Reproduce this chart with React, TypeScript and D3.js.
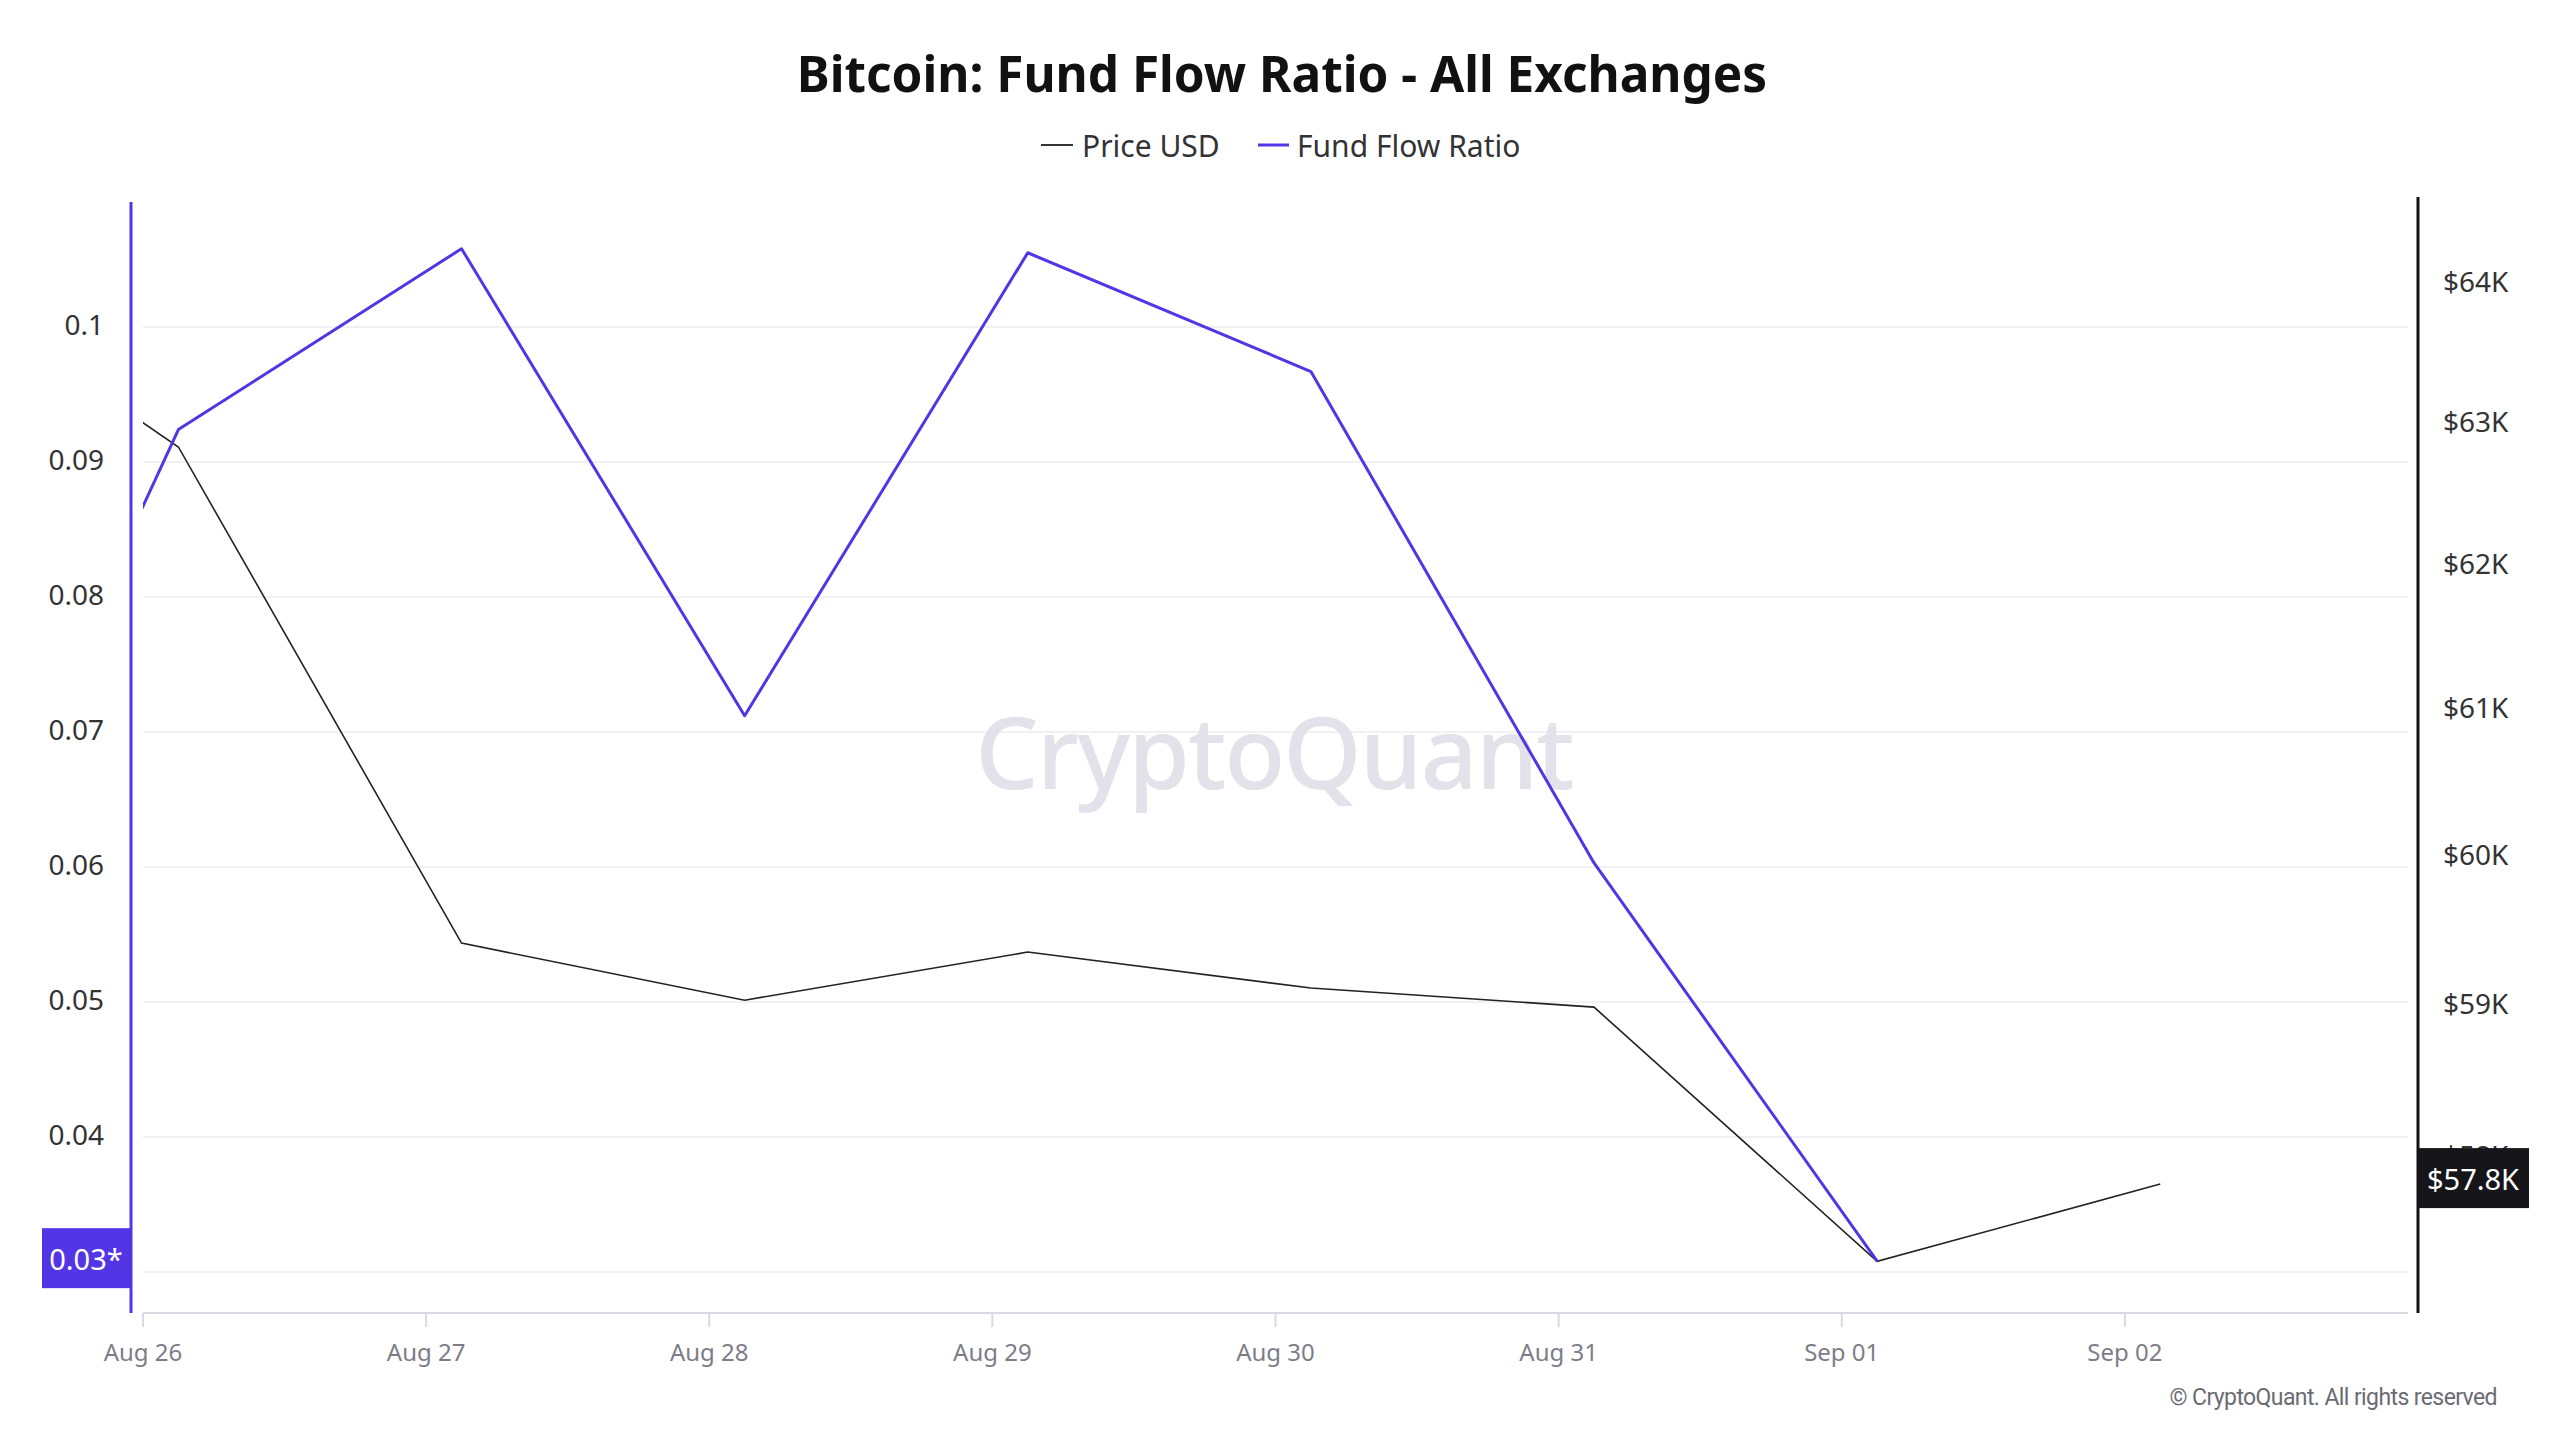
import * as d3 from 'd3'

// daily points (timestamps are ~03:00 UTC); Aug 25 sits off the left edge and gets clipped
const dates = [
  '2024-08-25', '2024-08-26', '2024-08-27', '2024-08-28', '2024-08-29',
  '2024-08-30', '2024-08-31', '2024-09-01', '2024-09-02',
]
const priceUsd = [64205, 62817, 59400, 59019, 59340, 59100, 58973, 57307, 57808]
const fundFlowRatio: (number | null)[] = [0.047, 0.0924, 0.1058, 0.0712, 0.1055, 0.0967, 0.0603, 0.0308, null]

const ratioTicks = [0.03, 0.04, 0.05, 0.06, 0.07, 0.08, 0.09, 0.1]
const priceTicks = [58000, 59000, 60000, 61000, 62000, 63000, 64000]
const dayTicks = [
  '2024-08-26', '2024-08-27', '2024-08-28', '2024-08-29',
  '2024-08-30', '2024-08-31', '2024-09-01', '2024-09-02',
]

const W = 2560
const H = 1440
const plot = { left: 143, right: 2408, top: 202, bottom: 1313 }

const PURPLE = '#5236e6'
const FONT = '"Noto Sans", "Open Sans", sans-serif'

const toTime = (d: string) => new Date(d + 'T03:00:00Z')

export default function App() {
  const x = d3
    .scaleUtc()
    .domain([new Date('2024-08-26T00:00:00Z'), new Date('2024-09-03T00:00:00Z')])
    .range([plot.left, plot.right])

  const yRatio = d3.scaleLinear().domain([0.02696, 0.10926]).range([plot.bottom, plot.top])
  const yPrice = d3.scaleLog().domain([56974, 64576]).range([plot.bottom, plot.top])

  const rows = dates.map((d, i) => ({ t: toTime(d), price: priceUsd[i], ratio: fundFlowRatio[i] }))

  const priceLine = d3
    .line<(typeof rows)[0]>()
    .x((d) => x(d.t))
    .y((d) => yPrice(d.price))

  const ratioLine = d3
    .line<(typeof rows)[0]>()
    .defined((d) => d.ratio != null)
    .x((d) => x(d.t))
    .y((d) => yRatio(d.ratio as number))

  const lastRatio = fundFlowRatio.filter((v) => v != null).slice(-1)[0] as number
  const lastPrice = priceUsd[priceUsd.length - 1]
  const fmtDay = d3.utcFormat('%b %d')

  return (
    <div style={{ position: 'absolute', left: 0, top: 0, background: '#fff' }}>
      <svg width={W} height={H} style={{ display: 'block', fontFamily: FONT }}>
        <defs>
          <clipPath id="plot-clip">
            <rect x={plot.left} y={plot.top} width={plot.right - plot.left} height={plot.bottom - plot.top} />
          </clipPath>
        </defs>
        <rect width={W} height={H} fill="#fff" />

        {/* title + legend */}
        <text x={1282} y={73} textAnchor="middle" dominantBaseline="central" fontSize={49.5} fontWeight={700} fill="#111">
          Bitcoin: Fund Flow Ratio - All Exchanges
        </text>
        <line x1={1041} x2={1073} y1={145} y2={145} stroke="#333" strokeWidth={2} />
        <text x={1082} y={145} dominantBaseline="central" fontSize={30} fill="#333">
          Price USD
        </text>
        <line x1={1258} x2={1289} y1={145} y2={145} stroke={PURPLE} strokeWidth={3} />
        <text x={1297} y={145} dominantBaseline="central" fontSize={30} fill="#333">
          Fund Flow Ratio
        </text>

        {/* gridlines */}
        {ratioTicks.map((v) => (
          <line key={v} x1={plot.left} x2={plot.right} y1={yRatio(v)} y2={yRatio(v)} stroke="#f1f1f3" strokeWidth={2} />
        ))}

        {/* watermark */}
        <text x={1274} y={750} textAnchor="middle" dominantBaseline="central" fontSize={100} fontWeight={500} letterSpacing={-2} fill="#e3e2ea">
          CryptoQuant
        </text>

        {/* x axis */}
        <line x1={plot.left} x2={plot.right} y1={plot.bottom} y2={plot.bottom} stroke="#d9d9e3" strokeWidth={2} />
        {dayTicks.map((d) => {
          const t = new Date(d + 'T00:00:00Z')
          const px = x(t)
          return (
            <g key={d}>
              <line x1={px} x2={px} y1={plot.bottom} y2={plot.bottom + 14} stroke="#d9d9e3" strokeWidth={2} />
              <text x={px} y={1351} textAnchor="middle" dominantBaseline="central" fontSize={24} fill="#7d7d87">
                {fmtDay(t)}
              </text>
            </g>
          )
        })}

        {/* left axis (0.03 tick sits under the last-value badge) */}
        <line x1={131} x2={131} y1={plot.top} y2={plot.bottom} stroke={PURPLE} strokeWidth={3} />
        {ratioTicks.slice(1).map((v) => (
          <text key={v} x={104} y={yRatio(v) - 3} textAnchor="end" dominantBaseline="central" fontSize={28} fill="#333">
            {d3.format('~g')(v)}
          </text>
        ))}

        {/* right axis */}
        <line x1={2418} x2={2418} y1={197} y2={plot.bottom} stroke="#111" strokeWidth={3} />
        {priceTicks.map((v) => (
          <text key={v} x={2443} y={yPrice(v)} dominantBaseline="central" fontSize={28} fill="#333">
            {`$${v / 1000}K`}
          </text>
        ))}

        {/* series */}
        <g clipPath="url(#plot-clip)">
          <path d={priceLine(rows) ?? ''} fill="none" stroke="#222" strokeWidth={1.6} />
          <path d={ratioLine(rows) ?? ''} fill="none" stroke={PURPLE} strokeWidth={3} strokeLinejoin="round" />
        </g>

        {/* last value badges */}
        <rect x={42} y={yRatio(lastRatio) - 33} width={89} height={60} fill={PURPLE} />
        <text x={86} y={yRatio(lastRatio) - 3} textAnchor="middle" dominantBaseline="central" fontSize={29} fill="#fff">
          {d3.format('.2f')(lastRatio) + '*'}
        </text>
        <rect x={2418} y={yPrice(lastPrice) - 36} width={111} height={60} fill="#16161a" />
        <text x={2473} y={yPrice(lastPrice) - 6} textAnchor="middle" dominantBaseline="central" fontSize={29} fill="#fff">
          {`$${d3.format('.1f')(lastPrice / 1000)}K`}
        </text>

        <text x={2497} y={1397} textAnchor="end" dominantBaseline="central" fontFamily="Roboto, sans-serif" fontSize={23} letterSpacing={-0.6} fill="#6b6b73">
          © CryptoQuant. All rights reserved
        </text>
      </svg>
    </div>
  )
}
